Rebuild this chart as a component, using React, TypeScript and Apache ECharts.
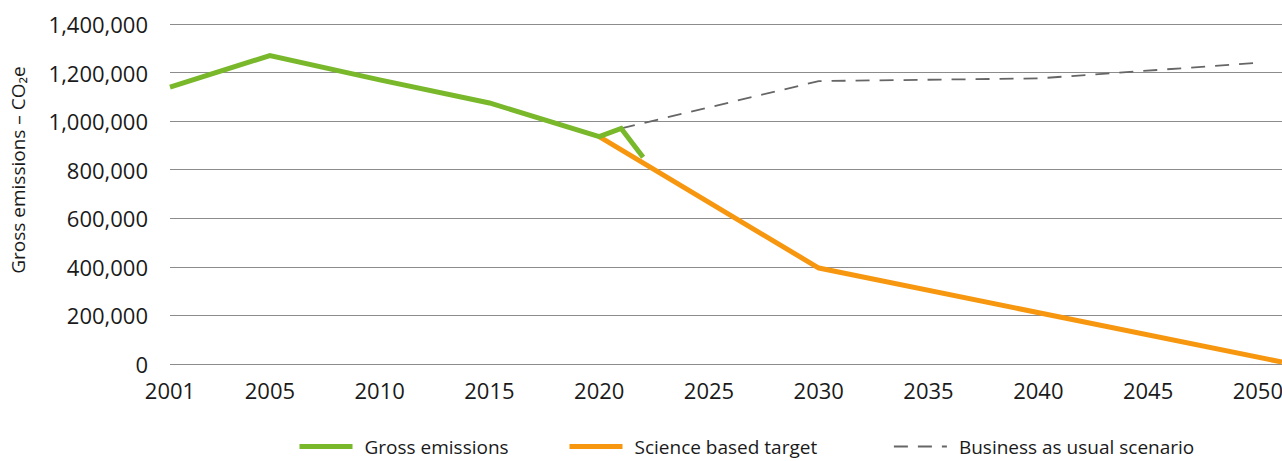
import React, { useEffect, useRef } from "react";
import * as echarts from "echarts";

// x axis starts slightly before the 2001 tick position in the reference; first point sits at the axis start
const X_MIN = 2000.45;
const X_MAX = 2051.1;
const xTickValues = [2000.45, 2005, 2010, 2015, 2020, 2025, 2030, 2035, 2040, 2045, 2050];
const xTickLabels = ["2001", "2005", "2010", "2015", "2020", "2025", "2030", "2035", "2040", "2045", "2050"];

const grossYears = [2000.45, 2005, 2010, 2015, 2020, 2021, 2022];
const grossValues = [1140000, 1270000, 1170000, 1075000, 936000, 970000, 851000];

const sbtYears = [2020, 2030, 2051.1];
const sbtValues = [936000, 395000, 8000];

const bauYears = [2021, 2030, 2040, 2050];
const bauValues = [970000, 1165000, 1176000, 1240000];

const seriesNames = ["Gross emissions", "Science based target", "Business as usual scenario"];
const yAxisTitle = "Gross emissions – CO₂e";

const FONT = "'Open Sans', sans-serif";
const GREEN = "#79b82b";
const ORANGE = "#f7970f";
const GREY = "#666666";

function pairs(xs: number[], ys: number[]) {
  return xs.map((x, i) => [x, ys[i]]);
}

function legendAt(name: string, left: number, width: number) {
  return {
    top: 437,
    left,
    padding: 0,
    itemWidth: 53,
    itemHeight: 5,
    itemStyle: { opacity: 0 },
    lineStyle: { width },
    textStyle: { fontFamily: FONT, fontSize: 19, color: "#1a1a1a", padding: [0, 0, 0, 7] },
    data: [name],
  };
}

export default function App() {
  const ref = useRef<HTMLDivElement>(null);
  useEffect(() => {
    if (!ref.current) return;
    const chart = echarts.init(ref.current, null, { renderer: "svg" });
    chart.setOption({
      animation: false,
      backgroundColor: "#ffffff",
      grid: { left: 170, right: 0, top: 24, bottom: 97, containLabel: false, outerBoundsMode: "none" },
      legend: [
        legendAt(seriesNames[0], 297, 5),
        legendAt(seriesNames[1], 567, 5),
        legendAt(seriesNames[2], 893, 1.8),
      ],
      graphic: [
        {
          type: "text",
          x: 18,
          y: 170,
          rotation: Math.PI / 2,
          style: {
            text: yAxisTitle,
            fontFamily: FONT,
            fontSize: 19,
            fill: "#1a1a1a",
            align: "center",
            verticalAlign: "middle",
          },
        },
      ],
      xAxis: {
        type: "value",
        min: X_MIN,
        max: X_MAX,
        splitLine: { show: false },
        axisLine: { show: false },
        axisTick: { show: false },
        axisLabel: {
          customValues: xTickValues,
          formatter: (v: number) => {
            const i = xTickValues.findIndex((t) => Math.abs(t - v) < 0.01);
            return i >= 0 ? xTickLabels[i] : "";
          },
          fontFamily: FONT,
          fontSize: 22,
          color: "#1a1a1a",
          margin: 15,
          showMinLabel: true,
          showMaxLabel: true,
        },
      },
      yAxis: {
        type: "value",
        min: 0,
        max: 1400000,
        interval: 200000,
        axisLine: { show: false },
        axisTick: { show: false },
        splitLine: { lineStyle: { color: "#8c8c8c", width: 1 } },
        axisLabel: {
          fontFamily: FONT,
          fontSize: 22,
          color: "#1a1a1a",
          margin: 22,
          formatter: (v: number) => v.toLocaleString("en-US"),
        },
      },
      series: [
        {
          name: seriesNames[0],
          type: "line",
          data: pairs(grossYears, grossValues),
          showSymbol: false,
          symbol: "none",
          lineStyle: { color: GREEN, width: 5, cap: "butt", join: "miter" },
          itemStyle: { color: GREEN },
          z: 3,
        },
        {
          name: seriesNames[1],
          type: "line",
          data: pairs(sbtYears, sbtValues),
          showSymbol: false,
          symbol: "none",
          lineStyle: { color: ORANGE, width: 5, cap: "butt" },
          itemStyle: { color: ORANGE },
          z: 2,
        },
        {
          name: seriesNames[2],
          type: "line",
          data: pairs(bauYears, bauValues),
          showSymbol: false,
          symbol: "none",
          lineStyle: { color: GREY, width: 1.8, type: [14, 10] },
          itemStyle: { color: GREY },
          z: 1,
        },
      ],
    });
    return () => chart.dispose();
  }, []);
  return <div ref={ref} style={{ width: 1282, height: 461, position: "absolute", left: 0, top: 0 }} />;
}
